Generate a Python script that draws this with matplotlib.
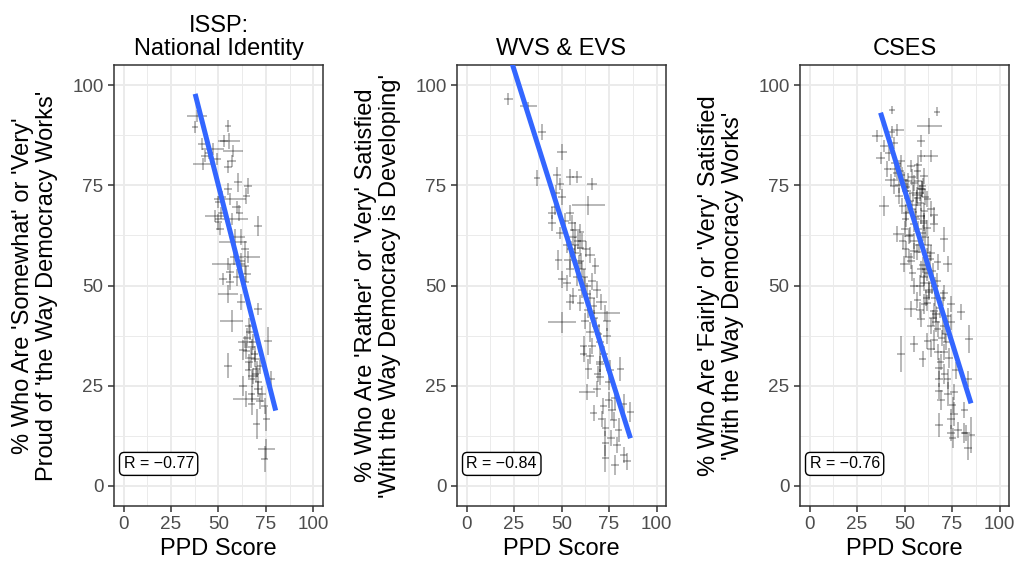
import matplotlib
matplotlib.use("Agg")
import matplotlib.pyplot as plt
import numpy as np

plt.rcParams['font.family'] = ['Liberation Sans', 'DejaVu Sans']

# ---- ISSP: National Identity ----
issp_ppd = [38.6, 37.7, 55.1, 55.6, 41.2, 47.1, 57.6, 42.9, 49.0, 56.9, 42.0, 55.1,
            60.4, 65.6, 55.1, 64.7, 56.0, 49.9, 59.5, 48.2, 56.9, 49.9, 70.9, 50.8,
            62.1, 57.8, 63.9, 65.6, 55.1, 63.9, 56.0, 64.7, 52.5, 56.0, 55.1, 63.9,
            70.9, 56.9, 66.5, 76.1, 63.9, 67.4, 64.7, 55.1, 69.1, 70.0, 68.2, 77.8,
            67.4, 63.0, 70.9, 67.4, 64.7, 71.7, 67.4, 74.3, 75.2, 70.0, 75.2, 74.3,
            66.0, 68.0, 66.0, 72.0, 69.0, 71.0, 62.0, 60.0, 58.0, 61.0, 52.0, 53.0,
            45.0, 73.0, 66.0, 62.0, 65.0, 67.0, 69.5, 63.0, 58.5, 51.5]
issp_pct = [92.3, 89.5, 89.8, 86.1, 85.3, 84.0, 83.6, 82.4, 81.5, 81.1, 80.3, 79.5,
            75.7, 74.9, 74.1, 72.4, 71.6, 70.8, 69.5, 67.4, 66.6, 65.8, 64.9, 64.1,
            62.0, 60.8, 59.1, 57.0, 55.4, 54.9, 53.3, 52.9, 51.6, 50.8, 47.9, 50.9,
            44.1, 41.2, 38.3, 36.2, 35.8, 34.6, 33.7, 30.0, 31.7, 29.2, 27.5, 26.7,
            26.7, 25.0, 24.2, 22.9, 21.7, 21.3, 20.4, 20.0, 16.7, 15.5, 9.2, 6.7,
            40.0, 36.0, 31.0, 30.0, 33.0, 26.0, 46.0, 52.0, 57.0, 68.0, 72.0, 86.0,
            83.0, 23.0, 29.0, 56.0, 37.0, 32.0, 28.0, 34.0, 62.0, 68.0]
issp_ppd_err = [5.2, 1.5, 1.5, 5.7, 2.0, 5.7, 5.2, 2.0, 2.5, 2.5, 5.2, 2.0,
                2.0, 2.0, 2.0, 2.0, 8.3, 2.0, 2.5, 5.2, 8.7, 2.0, 2.0, 2.0,
                2.0, 7.4, 2.0, 6.1, 8.7, 2.0, 2.0, 2.5, 2.0, 2.0, 5.2, 2.0,
                2.0, 6.0, 2.0, 2.0, 3.5, 2.0, 2.0, 2.0, 2.0, 2.0, 2.5, 2.0,
                2.0, 2.0, 2.0, 2.0, 7.0, 2.0, 2.0, 2.0, 2.0, 2.0, 4.4, 2.0,
                2.0, 2.0, 2.0, 2.0, 2.0, 2.0, 2.0, 2.5, 2.0, 2.0, 2.0, 2.0,
                2.0, 2.0, 2.0, 2.0, 2.0, 2.0, 2.0, 2.0, 2.0, 2.0]
issp_pct_err = [1.5, 1.5, 1.5, 2.0, 1.5, 1.5, 1.5, 1.5, 1.5, 1.5, 1.5, 1.5,
                2.3, 2.0, 1.5, 2.0, 1.5, 1.5, 1.5, 1.5, 1.5, 2.0, 2.5, 1.5,
                2.0, 1.5, 2.0, 1.5, 1.5, 2.0, 2.0, 2.0, 1.5, 2.0, 2.3, 1.5,
                1.5, 2.7, 2.0, 3.5, 1.5, 2.0, 2.0, 3.1, 2.0, 2.0, 2.0, 2.0,
                2.0, 2.5, 2.0, 2.0, 2.0, 2.0, 2.7, 2.0, 3.1, 3.7, 2.5, 3.3,
                2.0, 2.0, 2.0, 2.0, 2.0, 3.0, 2.0, 2.0, 2.0, 2.0, 1.5, 1.5,
                1.5, 2.0, 2.0, 2.0, 2.5, 2.5, 2.0, 2.5, 2.0, 1.5]
issp_fit_x = [37.7, 80.1]
issp_fit_y = [97.8, 18.8]

# ---- WVS & EVS ----
wvs_ppd = [22.0, 32.5, 39.6, 50.2, 37.0, 47.5, 54.6, 58.1, 66.0, 49.3, 50.2, 64.2,
           46.6, 44.9, 54.6, 44.9, 55.5, 57.2, 59.9, 49.3, 60.7, 57.2, 59.9, 65.1,
           48.4, 54.6, 59.0, 67.8, 54.6, 50.2, 52.8, 56.3, 59.9, 65.1, 68.7, 73.1,
           74.0, 62.5, 65.1, 61.6, 70.4, 65.1, 70.4, 64.2, 81.0, 70.4, 74.8, 63.4,
           68.7, 74.8, 82.7, 66.9, 86.3, 71.3, 77.4, 73.1, 73.1, 79.2, 82.7, 73.1,
           78.3, 84.5, 54.6, 50.2, 60.7, 66.9, 61.6, 74.0, 58.0, 62.0, 60.0, 63.0,
           56.0, 52.0, 47.0, 68.0, 66.0, 69.0, 72.0, 76.0, 64.0, 71.0,
           57.0, 61.0, 63.5, 67.0, 69.5, 72.5, 75.5, 78.0, 80.0, 58.5, 55.0, 62.5,
           66.0, 70.0, 76.5, 53.0]
wvs_pct = [96.5, 94.8, 88.2, 83.2, 76.7, 77.5, 77.1, 77.1, 75.4, 75.4, 72.1, 70.0,
           69.6, 68.0, 68.0, 65.5, 65.5, 63.9, 63.4, 63.0, 61.0, 60.1, 59.3, 57.7,
           56.4, 56.4, 55.6, 54.8, 54.0, 40.8, 50.7, 47.4, 45.7, 47.0, 49.0, 43.2,
           41.2, 41.2, 38.3, 35.0, 35.8, 32.5, 30.4, 29.2, 29.2, 27.2, 25.9, 23.4,
           24.3, 21.4, 20.5, 18.1, 18.5, 16.8, 16.4, 14.4, 10.6, 10.2, 7.7, 6.9,
           5.3, 6.1, 45.8, 51.5, 49.0, 44.9, 32.9, 37.5, 52.0, 52.0, 56.0, 59.0,
           62.0, 66.0, 73.0, 40.0, 35.0, 28.0, 20.0, 12.0, 44.0, 46.0,
           58.0, 54.0, 48.0, 42.0, 38.0, 33.0, 29.0, 22.0, 14.0, 61.0, 59.0, 50.0,
           51.0, 31.0, 19.0, 60.0]
wvs_ppd_err = [2.5, 4.4, 2.0, 2.5, 1.5, 2.0, 2.0, 2.5, 2.5, 2.0, 2.0, 8.8,
               2.0, 2.0, 2.0, 2.0, 2.0, 2.5, 2.0, 2.0, 2.0, 2.0, 2.0, 2.5,
               2.0, 3.5, 2.0, 2.0, 2.0, 7.5, 2.0, 2.0, 2.0, 2.5, 2.0, 7.5,
               2.0, 2.0, 2.0, 2.0, 2.0, 2.0, 2.0, 2.0, 2.0, 2.0, 2.0, 4.4,
               2.0, 2.0, 2.0, 2.0, 2.0, 2.0, 2.0, 2.0, 2.0, 2.0, 2.0, 2.0,
               2.0, 2.0, 2.0, 2.0, 2.0, 2.0, 2.0, 2.0, 2.0, 2.0, 2.0, 2.0,
               2.0, 2.0, 2.0, 2.0, 2.0, 2.0, 2.0, 2.0, 2.0, 3.0,
               2.0, 2.0, 2.0, 2.0, 2.0, 2.0, 2.0, 2.0, 2.0, 2.0, 2.0, 3.0,
               2.0, 2.0, 2.0, 2.0]
wvs_pct_err = [1.5, 1.0, 2.0, 2.0, 2.0, 2.0, 2.0, 1.5, 1.5, 1.5, 2.0, 2.3,
               2.0, 1.5, 2.0, 2.0, 2.0, 2.0, 2.0, 1.5, 2.0, 2.0, 2.0, 2.0,
               2.5, 2.0, 2.0, 2.0, 2.0, 2.7, 2.0, 2.0, 2.0, 2.0, 2.0, 2.0,
               2.5, 2.0, 2.5, 2.5, 2.5, 2.0, 2.0, 2.5, 3.0, 2.0, 2.0, 2.0,
               2.0, 2.0, 2.5, 2.0, 2.5, 2.0, 2.0, 2.0, 3.1, 2.0, 2.0, 3.3,
               2.5, 2.0, 2.0, 2.0, 2.0, 2.0, 2.0, 2.0, 2.0, 2.0, 2.0, 2.0,
               2.0, 2.0, 2.0, 2.0, 2.0, 2.0, 2.0, 2.0, 2.0, 2.0,
               2.0, 2.0, 2.5, 2.0, 2.5, 2.0, 2.5, 3.0, 3.0, 2.0, 2.0, 2.0,
               2.0, 2.5, 2.5, 2.0]
wvs_fit_x = [22.0, 86.3]
wvs_fit_y = [108.4, 11.9]

# ---- CSES ----
cses_ppd = [43.6, 67.0, 63.0, 46.2, 43.6, 35.7, 58.6, 44.4, 39.2, 58.6, 63.9, 37.4,
            48.0, 53.3, 56.8, 60.3, 42.7, 49.7, 55.0, 44.4, 59.5, 51.5, 47.1, 56.8,
            62.1, 39.2, 48.9, 54.2, 63.9, 58.6, 65.6, 50.6, 55.0, 62.1, 65.6, 46.2,
            52.4, 59.5, 70.9, 50.6, 56.8, 62.1, 49.7, 67.4, 72.7, 58.6, 64.8, 54.2,
            60.3, 55.0, 60.3, 70.9, 56.8, 62.1, 74.4, 53.3, 65.6, 58.6, 72.7, 63.9,
            67.4, 84.1, 55.0, 62.1, 48.0, 63.9, 70.9, 59.5, 68.2, 77.1, 68.2, 72.7,
            83.3, 68.2, 76.2, 69.2, 75.3, 81.5, 74.4, 68.2, 78.0, 74.4, 82.4, 85.0,
            83.3, 79.7, 74.4, 75.3, 81.5,
            52.0, 54.0, 57.0, 59.0, 61.0, 53.0, 56.0, 58.0, 60.0, 51.0, 55.0, 57.5,
            62.5, 64.0, 66.0, 45.0, 47.0, 50.0, 52.5, 61.5, 63.0, 66.5, 69.5, 71.5,
            73.5, 67.0, 70.0, 65.0, 58.0, 53.5, 49.0, 42.0, 41.0, 46.0, 57.0, 61.0,
            54.5, 56.5, 58.5, 60.5, 59.0, 55.5, 57.0, 61.0, 63.5, 52.0, 50.5, 48.5,
            53.0, 55.0, 59.5, 62.0, 64.5, 66.0, 68.5, 70.5, 72.0, 65.5, 67.5, 69.0,
            45.5, 47.5, 51.0, 56.0, 60.0, 58.0, 63.0, 60.5, 66.5, 71.0, 73.0, 76.0]
cses_pct = [93.8, 93.4, 89.7, 88.9, 88.4, 87.2, 86.0, 85.5, 84.7, 82.2, 82.2, 81.8,
            81.0, 79.8, 78.5, 77.3, 76.4, 76.4, 75.6, 74.8, 74.8, 73.5, 72.3, 71.9,
            71.5, 69.8, 69.8, 69.0, 69.0, 67.3, 67.7, 66.5, 65.3, 64.4, 65.3, 62.8,
            62.4, 63.2, 61.5, 59.1, 58.3, 57.4, 55.4, 55.8, 55.4, 54.0, 53.6, 53.2,
            52.0, 49.8, 50.7, 48.2, 46.5, 45.7, 45.3, 44.1, 43.6, 41.6, 42.4, 39.9,
            39.1, 36.6, 35.4, 36.2, 33.0, 34.2, 33.4, 31.7, 29.3, 28.8, 26.7, 26.7,
            26.7, 23.8, 23.4, 21.4, 20.1, 18.9, 16.8, 15.2, 13.9, 13.1, 13.1, 12.7,
            9.4, 43.3, 40.8, 11.9, 13.1,
            76.0, 77.0, 76.0, 74.0, 72.0, 71.0, 70.0, 73.0, 66.0, 68.0, 61.0, 60.0,
            60.0, 58.0, 50.0, 79.0, 75.0, 64.0, 57.0, 47.0, 49.0, 43.0, 37.0, 38.0,
            32.0, 51.0, 47.0, 42.0, 44.0, 56.0, 61.0, 83.0, 79.0, 78.0, 80.0, 54.0,
            73.0, 72.5, 70.5, 68.5, 74.0, 67.0, 64.0, 62.0, 56.5, 70.0, 73.5, 77.5,
            62.5, 58.5, 55.0, 53.0, 50.5, 47.0, 44.5, 40.0, 36.0, 36.5, 33.5, 31.0,
            80.5, 78.5, 74.5, 66.5, 65.5, 50.0, 48.5, 45.5, 41.0, 28.0, 23.0, 18.0]
cses_ppd_err = [1.5, 1.5, 6.6, 3.5, 1.5, 3.0, 2.0, 2.0, 2.0, 2.0, 3.5, 2.5,
                2.0, 2.0, 2.0, 2.0, 3.0, 2.0, 2.0, 2.0, 2.0, 2.0, 2.0, 2.0,
                2.0, 2.5, 2.0, 2.0, 2.0, 2.0, 2.0, 2.0, 2.0, 2.0, 2.0, 2.5,
                2.0, 2.0, 2.0, 2.0, 2.0, 2.0, 2.0, 2.0, 2.5, 2.0, 2.0, 2.0,
                2.0, 2.0, 2.0, 2.0, 2.0, 2.0, 2.0, 3.5, 2.0, 2.0, 2.0, 2.0,
                2.0, 2.0, 2.0, 2.0, 2.0, 2.0, 2.0, 2.0, 2.0, 2.0, 2.0, 2.0,
                2.0, 2.0, 2.0, 2.0, 2.0, 2.0, 2.0, 2.0, 2.0, 2.0, 2.0, 2.0,
                2.0, 2.0, 2.0, 2.0, 2.0,
                2.0, 2.0, 2.0, 2.0, 2.0, 2.0, 2.5, 2.0, 2.0, 2.0, 2.0, 2.0,
                2.0, 2.0, 2.0, 2.5, 2.0, 2.0, 2.0, 2.0, 2.0, 2.0, 2.0, 2.0,
                2.0, 2.0, 2.0, 2.0, 2.0, 2.0, 2.0, 2.5, 2.0, 2.0, 2.0, 2.0,
                2.0, 2.5, 2.0, 2.0, 2.5, 2.0, 2.0, 2.0, 2.0, 2.0, 2.0, 2.0,
                2.0, 2.0, 2.0, 2.0, 2.0, 2.0, 2.0, 2.0, 2.0, 2.0, 2.0, 2.0,
                2.5, 2.0, 2.0, 2.0, 2.0, 2.0, 2.0, 2.0, 2.0, 2.0, 2.0, 2.0]
cses_pct_err = [1.0, 1.0, 2.0, 1.5, 1.5, 1.5, 1.5, 1.5, 1.5, 1.5, 1.5, 1.5,
                1.5, 1.5, 2.0, 2.0, 1.5, 2.0, 2.0, 2.0, 2.0, 2.0, 2.0, 2.0,
                2.0, 2.5, 2.0, 2.0, 2.0, 2.0, 2.0, 2.0, 2.0, 2.0, 2.0, 2.0,
                2.0, 2.0, 3.2, 2.0, 2.0, 2.0, 2.0, 2.0, 2.0, 2.0, 2.0, 2.0,
                2.0, 2.0, 2.0, 2.0, 2.0, 2.0, 2.0, 2.0, 2.0, 2.0, 2.0, 2.0,
                2.0, 3.5, 2.0, 2.0, 4.5, 2.0, 2.0, 2.0, 2.5, 2.0, 2.0, 2.5,
                2.0, 2.0, 2.0, 2.5, 2.0, 2.0, 2.5, 3.0, 2.0, 2.0, 2.0, 4.5,
                3.0, 2.0, 2.0, 2.5, 2.5,
                2.0, 2.0, 2.0, 2.0, 2.0, 2.0, 2.0, 2.0, 2.0, 2.0, 2.0, 2.0,
                2.0, 2.0, 2.0, 2.0, 2.0, 2.0, 2.0, 2.0, 2.0, 2.0, 2.0, 2.0,
                2.5, 2.0, 2.0, 2.0, 2.0, 2.0, 2.0, 2.0, 2.0, 2.0, 2.0, 2.0,
                2.0, 2.0, 2.0, 2.0, 2.0, 2.0, 2.0, 2.0, 2.0, 2.0, 2.0, 2.0,
                2.0, 2.0, 2.0, 2.0, 2.5, 2.0, 2.5, 2.0, 2.0, 2.5, 2.0, 2.0,
                1.5, 2.0, 2.0, 2.0, 2.0, 2.5, 2.0, 2.5, 2.5, 2.5, 3.0, 3.0]
cses_fit_x = [37.4, 85.0]
cses_fit_y = [93.1, 20.6]

titles = ["ISSP:\nNational Identity", "WVS & EVS", "CSES"]
ylabels = ["% Who Are 'Somewhat' or 'Very'\nProud of 'the Way Democracy Works'",
           "% Who Are 'Rather' or 'Very' Satisfied\n'With the Way Democracy is Developing'",
           "% Who Are 'Fairly' or 'Very' Satisfied\n'With the Way Democracy Works'"]
r_labels = ["R = \u22120.77", "R = \u22120.84", "R = \u22120.76"]

panels = [
    (issp_ppd, issp_pct, issp_ppd_err, issp_pct_err, issp_fit_x, issp_fit_y),
    (wvs_ppd, wvs_pct, wvs_ppd_err, wvs_pct_err, wvs_fit_x, wvs_fit_y),
    (cses_ppd, cses_pct, cses_ppd_err, cses_pct_err, cses_fit_x, cses_fit_y),
]

fig = plt.figure(figsize=(10.17, 5.72), dpi=100)
lefts = [114 / 1017, 457 / 1017, 800 / 1017]
w = 209 / 1017
b = 1 - 506 / 572
h = 441 / 572

for i, (px, py, pxe, pye, fx, fy) in enumerate(panels):
    ax = fig.add_axes([lefts[i], b, w, h])
    ax.set_xlim(-5, 105)
    ax.set_ylim(-5, 105)
    ticks = [0, 25, 50, 75, 100]
    ax.set_xticks(ticks)
    ax.set_yticks(ticks)
    ax.set_xticks([12.5, 37.5, 62.5, 87.5], minor=True)
    ax.set_yticks([12.5, 37.5, 62.5, 87.5], minor=True)
    ax.grid(which='major', color='#EBEBEB', lw=1.4, zorder=0)
    ax.grid(which='minor', color='#EBEBEB', lw=0.7, zorder=0)
    ax.set_axisbelow(True)
    ax.tick_params(which='minor', length=0)
    ax.tick_params(which='major', direction='out', length=4.5, width=1.1,
                   color='#333333', labelcolor='#4D4D4D', labelsize=13.6, pad=3)
    for s in ax.spines.values():
        s.set_color('#333333')
        s.set_linewidth(1.1)

    ax.errorbar(px, py, xerr=pxe, yerr=pye, fmt='none',
                ecolor=(0, 0, 0, 0.3), elinewidth=1.3, capsize=0, zorder=2)
    ax.plot(fx, fy, color='#3366FF', lw=3.6, solid_capstyle='butt', zorder=3)

    ax.text(0, 5.5, r_labels[i], ha='left', va='center', fontsize=11.5, zorder=4,
            bbox=dict(boxstyle='round,pad=0.25,rounding_size=0.3', fc='white',
                      ec='black', lw=1))

    ax.set_title(titles[i], fontsize=17, pad=7, linespacing=1.05)
    ax.set_xlabel("PPD Score", fontsize=17, labelpad=3)
    ax.set_ylabel(ylabels[i], fontsize=17, labelpad=10, linespacing=1.15)

fig.savefig("out.png", dpi=100)
